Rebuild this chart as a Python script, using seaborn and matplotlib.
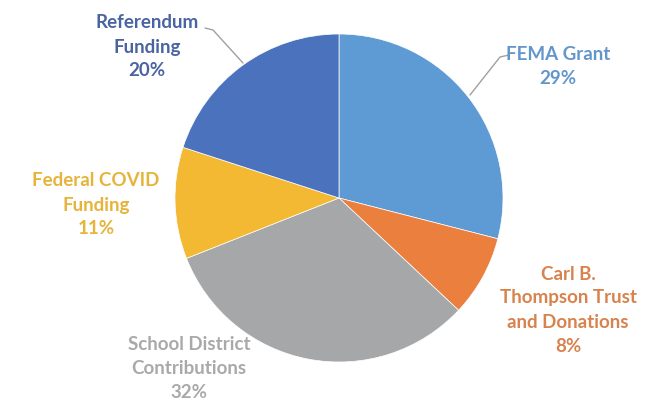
import matplotlib
matplotlib.use("Agg")
import matplotlib.pyplot as plt
import seaborn as sns

sns.set_theme(style="white")
plt.rcParams['font.family'] = ['Lato', 'DejaVu Sans']

categories = ["FEMA Grant", "Carl B.\nThompson Trust\nand Donations", "School District\nContributions",
              "Federal COVID\nFunding", "Referendum\nFunding"]
values = [29, 8, 32, 11, 20]
colors = ["#5E9AD3", "#EA7F3E", "#A6A7A9", "#F4B933", "#4A72BD"]
text_colors = ["#6396CB", "#D8834D", "#A9A9A9", "#E6B43A", "#4A64A2"]

W, H = 647, 404
cx, cy, R = 339, 198, 164

fig = plt.figure(figsize=(W / 100, H / 100), dpi=100)
ax = fig.add_axes([0, 0, 1, 1])
ax.pie(values, colors=colors, startangle=90, counterclock=False, radius=1,
       wedgeprops=dict(linewidth=0.5, edgecolor="white"))
ax.set_xlim(-cx / R, (W - cx) / R)
ax.set_ylim((cy - H) / R, cy / R)
ax.set_aspect('auto')
ax.axis('off')

def px(x, y):
    return ((x - cx) / R, (cy - y) / R)

# label centres in pixel coordinates (x, y of label block centre)
label_pos = [(558, 66), (568, 310), (189, 368), (96, 205), (147, 47)]
for cat, v, tc, (lx, ly) in zip(categories, values, text_colors, label_pos):
    ax.text(*px(lx, ly), f"{cat}\n{v}%", ha="center", va="center", color=tc,
            fontsize=13.5, fontweight="bold", linespacing=1.5)

# leader lines
line_col = "#A0A0A0"
ax.plot(*zip(px(205, 28), px(213, 30), px(243, 63)), color=line_col, lw=1)
ax.plot(*zip(px(509, 55), px(500, 57), px(470, 95)), color=line_col, lw=1)

fig.savefig("out.png", dpi=100, facecolor="white")
